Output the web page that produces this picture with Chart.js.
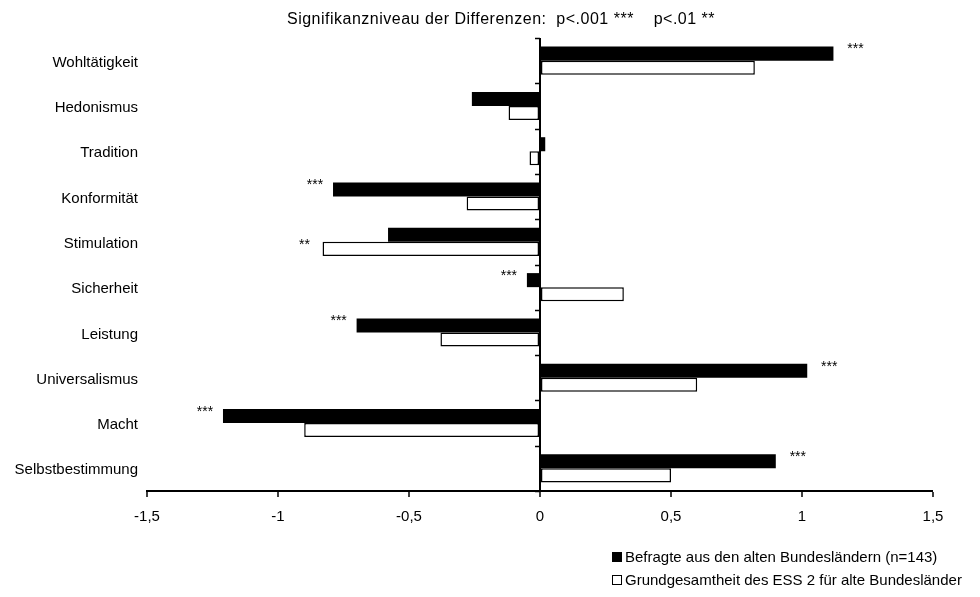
<!DOCTYPE html>
<html>
<head>
<meta charset="utf-8">
<script src="https://cdn.jsdelivr.net/npm/chart.js@4"></script>
<style>
  html, body { margin: 0; padding: 0; background: #fff; }
  #wrap { width: 980px; height: 597px; }
</style>
</head>
<body>
<div id="wrap"><canvas id="valueChart" width="980" height="597"></canvas></div>
<script>
// Werte
const categories = ['Wohltätigkeit', 'Hedonismus', 'Tradition', 'Konformität', 'Stimulation',
    'Sicherheit', 'Leistung', 'Universalismus', 'Macht', 'Selbstbestimmung'];
const befragte = [1.12, -0.26, 0.02, -0.79, -0.58, -0.05, -0.70, 1.02, -1.21, 0.90];
const grundgesamtheit = [0.82, -0.12, -0.04, -0.28, -0.83, 0.32, -0.38, 0.60, -0.90, 0.50];
const significance = ['***', '', '', '***', '**', '***', '***', '***', '***', '***'];
const tickLabels = ['-1,5', '-1', '-0,5', '0', '0,5', '1', '1,5'];
const seriesNames = ['Befragte aus den alten Bundesländern (n=143)', 'Grundgesamtheit des ESS 2 für alte Bundesländer'];
const titleText = 'Signifikanzniveau der Differenzen:  p<.001 ***    p<.01 **';

const FONT = '"Liberation Sans", Arial, sans-serif';

// Titel, Sterne, kleine Striche an der Nulllinie und Legende
const extras = {
    id: 'extras',
    afterDatasetsDraw(chart) {
        const ctx = chart.ctx;
        const x = chart.scales.x;
        const area = chart.chartArea;
        ctx.save();

        // Titel
        ctx.fillStyle = '#000';
        ctx.font = '16px ' + FONT;
        ctx.letterSpacing = '0.5px';
        ctx.textAlign = 'center';
        ctx.textBaseline = 'middle';
        ctx.fillText(titleText, 501, 20);
        ctx.letterSpacing = '0px';

        // Striche an der Nulllinie zwischen den Kategorien
        const x0 = x.getPixelForValue(0);
        const band = (area.bottom - area.top) / categories.length;
        ctx.strokeStyle = '#000';
        ctx.lineWidth = 1.5;
        for (let i = 0; i <= categories.length; i++) {
            const yy = Math.round(area.top + i * band) + 0.5;
            ctx.beginPath();
            ctx.moveTo(x0 - 5, yy);
            ctx.lineTo(x0, yy);
            ctx.stroke();
        }

        // Signifikanzsterne: neben dem äußersten Balken in Richtung des schwarzen Balkens
        ctx.font = '14px ' + FONT;
        const metaA = chart.getDatasetMeta(0), metaB = chart.getDatasetMeta(1);
        categories.forEach((c, i) => {
            if (!significance[i]) return;
            const a = befragte[i], b = grundgesamtheit[i];
            const dir = a >= 0 ? 1 : -1;
            const useB = Math.sign(b) === dir && Math.abs(b) > Math.abs(a);
            const ext = useB ? b : a;
            const bar = useB ? metaB.data[i] : metaA.data[i];
            const px = x.getPixelForValue(ext) + (dir > 0 ? 22 : -18);
            const py = bar.y - 4;
            ctx.fillText(significance[i], px, py);
        });

        // Legende
        ctx.font = '15px ' + FONT;
        ctx.textAlign = 'left';
        const lx = 612;
        [557, 580].forEach((ly, i) => {
            if (i === 0) {
                ctx.fillStyle = '#000';
                ctx.fillRect(lx, ly - 5, 10, 10);
            } else {
                ctx.fillStyle = '#fff';
                ctx.fillRect(lx + 0.5, ly - 4.5, 9, 9);
                ctx.lineWidth = 1;
                ctx.strokeRect(lx + 0.5, ly - 4.5, 9, 9);
            }
            ctx.fillStyle = '#000';
            ctx.fillText(seriesNames[i], lx + 13, ly + 1);
        });
        ctx.restore();
    }
};

new Chart(document.getElementById('valueChart'), {
    type: 'bar',
    data: {
        labels: categories,
        datasets: [
            {
                label: seriesNames[0],
                data: befragte,
                backgroundColor: '#000',
                borderColor: '#000',
                borderWidth: 0,
                categoryPercentage: 0.62,
                barPercentage: 1.0
            },
            {
                label: seriesNames[1],
                data: grundgesamtheit,
                backgroundColor: '#fff',
                borderColor: '#000',
                borderWidth: 1.5,
                borderSkipped: false,
                categoryPercentage: 0.62,
                barPercentage: 1.0
            }
        ]
    },
    options: {
        indexAxis: 'y',
        responsive: false,
        animation: false,
        layout: { padding: { top: 38, right: 47, bottom: 66, left: 0 } },
        scales: {
            x: {
                min: -1.5,
                max: 1.5,
                afterFit: (s) => { s.height = 40; },
                ticks: {
                    stepSize: 0.5,
                    color: '#000',
                    font: { family: FONT, size: 15 },
                    padding: 11,
                    callback: (v, i) => tickLabels[i]
                },
                border: { display: true, color: '#000', width: 2 },
                grid: {
                    drawOnChartArea: true,
                    color: (c) => (c.tick && c.tick.value === 0 ? '#000' : 'rgba(0,0,0,0)'),
                    lineWidth: (c) => (c.tick && c.tick.value === 0 ? 2 : 0),
                    tickColor: '#000',
                    tickWidth: 1.5,
                    tickLength: 6
                }
            },
            y: {
                afterFit: (s) => { s.width = 147; },
                ticks: {
                    color: '#000',
                    font: { family: FONT, size: 15 },
                    padding: 1,
                    labelOffset: 2
                },
                border: { display: false },
                grid: { display: false }
            }
        },
        plugins: {
            legend: { display: false },
            tooltip: { enabled: false }
        }
    },
    plugins: [extras]
});
</script>
</body>
</html>
